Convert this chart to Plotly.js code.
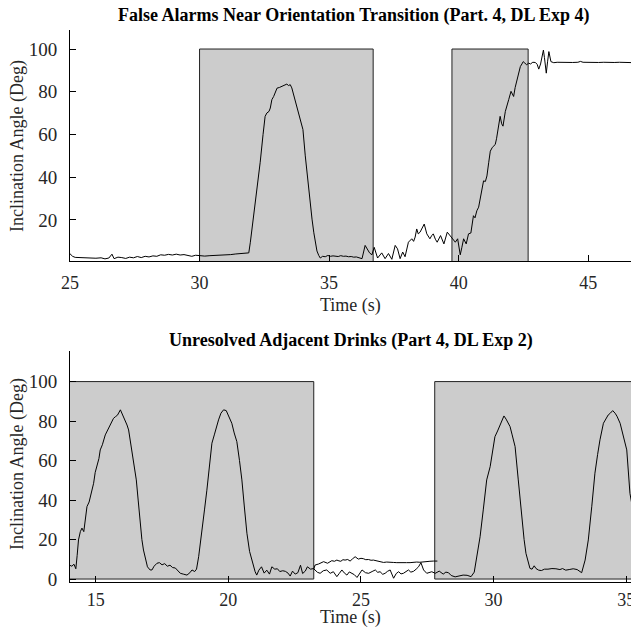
<!DOCTYPE html>
<html>
<head>
<meta charset="utf-8">
<script src="https://cdn.plot.ly/plotly-3.0.1.min.js"></script>
<style>html,body{margin:0;padding:0;background:#fff;}#chart{width:631px;height:633px;}</style>
</head>
<body>
<div id="chart"></div>
<script>
// ---------- Top panel: False Alarms Near Orientation Transition ----------
const topTime = [25.0,25.1,25.2,25.4,25.6,25.8,26.0,26.2,26.35,26.5,26.62,26.7,26.85,27.0,27.15,27.3,27.45,27.6,27.75,27.9,28.05,28.2,28.35,28.5,28.65,28.8,28.95,29.1,29.25,29.4,29.55,29.7,29.85,30.0,30.2,30.4,30.6,30.8,31.0,31.2,31.4,31.6,31.8,31.9,31.96,32.05,32.15,32.25,32.34,32.45,32.53,32.6,32.68,32.73,32.79,32.86,32.93,32.99,33.08,33.18,33.27,33.37,33.43,33.5,33.56,33.63,33.7,33.76,33.83,33.89,33.99,34.08,34.15,34.21,34.28,34.34,34.41,34.47,34.53,34.6,34.66,34.75,34.85,34.95,35.05,35.15,35.25,35.35,35.45,35.55,35.65,35.75,35.85,35.95,36.05,36.15,36.27,36.39,36.48,36.56,36.65,36.74,36.87,37.03,37.16,37.29,37.42,37.55,37.64,37.74,37.84,37.93,38.06,38.19,38.26,38.32,38.38,38.44,38.51,38.6,38.67,38.77,38.89,38.96,39.02,39.1,39.17,39.3,39.43,39.56,39.61,39.67,39.74,39.87,39.96,40.06,40.12,40.19,40.29,40.38,40.47,40.57,40.63,40.7,40.77,40.83,40.9,40.96,41.03,41.09,41.16,41.22,41.3,41.41,41.46,41.52,41.6,41.66,41.71,41.8,41.86,41.93,42.02,42.07,42.12,42.18,42.25,42.32,42.38,42.44,42.49,42.55,42.62,42.7,42.77,42.86,42.96,43.03,43.09,43.16,43.22,43.27,43.31,43.38,43.43,43.48,43.56,43.67,43.8,44.0,44.2,44.4,44.6,44.7,44.8,45.0,45.2,45.4,45.6,45.8,46.0,46.2,46.4,46.6,46.8];
const topAngle = [4.2,3.0,2.5,2.4,2.2,2.0,2.1,2.3,1.8,2.2,4.0,1.9,2.6,2.4,2.0,2.6,2.3,2.9,2.4,3.0,2.7,3.2,3.0,3.7,3.5,3.9,3.6,4.0,3.6,3.8,3.3,3.0,3.5,3.2,3.1,3.3,3.4,3.6,3.5,3.8,4.1,4.3,4.4,4.6,9.6,18,28,38,47,60,68.5,70.1,70.8,72.4,76.3,77.8,80.5,81.7,82.0,82.5,82.8,83.6,82.9,83.3,81.8,78.6,76,73.2,70,67,62.3,50,41,34.4,27,20.4,14,9.6,5.5,3.4,2.2,3.0,2.8,3.4,3.0,3.2,3.1,2.9,3.3,3.0,3.1,2.8,2.9,2.6,2.7,2.4,1.9,8.1,6.5,4.6,3.7,7.2,2.2,4.6,1.9,4.3,1.6,8.1,6.5,1.9,5.0,2.8,9.6,11.2,10,12,15.8,13.5,14.3,16.5,18.1,13.5,11.2,12.7,13.5,11,9.6,12.7,8.8,14.3,13.5,12.7,11.5,9.6,11.2,3.7,7,11.2,8.8,13.5,13.9,22,21,24.3,26,29.8,33,38.3,38,40.6,47,52.2,54,55.3,58,62.3,68.5,65,63.9,70.8,73,76.3,80.2,79,77.8,82,85.6,89,91.8,93,94.1,93.5,92.6,93.4,93.0,93.8,93.7,92.8,90.6,93,97.2,99.5,96,88.7,94,98.8,94.1,93.6,93.8,93.7,93.8,93.7,93.8,94.2,93.8,93.7,93.6,93.7,93.8,93.6,93.7,93.8,93.7,93.7,93.6];
const topBoxStart = [30.0, 39.74];
const topBoxEnd   = [36.70, 42.68];
const topTicksX = [25, 30, 35, 40, 45];
const topTicksY = [20, 40, 60, 80, 100];

// ---------- Bottom panel: Unresolved Adjacent Drinks ----------
const botTime = [14.0,14.1,14.18,14.25,14.3,14.35,14.42,14.48,14.55,14.6,14.67,14.75,14.85,14.92,14.98,15.05,15.12,15.17,15.25,15.36,15.45,15.55,15.6,15.67,15.75,15.82,15.93,16.02,16.11,16.18,16.24,16.3,16.37,16.45,16.53,16.6,16.68,16.74,16.8,16.88,16.95,17.05,17.12,17.2,17.31,17.4,17.5,17.6,17.7,17.8,17.9,18.0,18.1,18.19,18.3,18.44,18.55,18.63,18.73,18.8,18.88,18.95,19.0,19.1,19.19,19.28,19.38,19.47,19.55,19.63,19.72,19.82,19.92,20.0,20.13,20.22,20.32,20.42,20.51,20.6,20.7,20.8,20.89,20.95,21.01,21.07,21.15,21.25,21.35,21.45,21.55,21.64,21.75,21.85,21.94,22.05,22.15,22.25,22.33,22.42,22.52,22.62,22.72,22.8,22.9,22.98,23.1,23.21,23.27,23.36,23.46,23.58,23.71,23.84,23.96,24.09,24.18,24.28,24.37,24.47,24.56,24.66,24.75,24.85,24.95,25.04,25.17,25.29,25.42,25.54,25.63,25.72,25.82,25.91,26.0,26.1,26.23,26.33,26.42,26.51,26.6,26.7,26.79,26.88,26.98,27.08,27.17,27.26,27.36,27.48,27.58,27.67,27.8,27.95,28.1,28.2,28.3,28.4,28.55,28.7,28.85,29.0,29.15,29.27,29.37,29.49,29.61,29.74,29.87,29.96,30.05,30.15,30.24,30.32,30.39,30.47,30.55,30.62,30.7,30.81,30.93,31.06,31.15,31.22,31.3,31.37,31.45,31.53,31.6,31.7,31.8,31.92,32.05,32.2,32.35,32.5,32.6,32.72,32.85,33.0,33.15,33.32,33.45,33.57,33.7,33.82,33.92,34.01,34.14,34.22,34.32,34.4,34.49,34.58,34.65,34.77,34.89,35.02,35.14,35.25];
const botAngle = [7.1,6.5,7.5,5.2,12,19.8,24,25.8,24,30,36.7,39,44,48.5,54,57.8,61,65.4,68,73,75.5,78,79,81.4,82.3,83,85.7,83,80.6,78,75.5,70,63.7,57,50.2,40,26.5,20,14.7,10,6.2,4.6,4.6,6.5,8.0,8.3,7.2,7.8,6.5,7.0,5.8,5.6,4.2,2.9,2.5,2.0,3.2,4.6,3.8,5,11.3,18,24.8,35,45,57,68.8,73,77,80.6,84,85.7,85.3,83,78.9,74,69.6,60,50.2,37,23.2,14,9.6,6.2,3.7,2.0,4.5,6.2,3.0,4.5,2.5,6.2,5.0,5.2,3.8,4.2,3.9,3.0,1.5,4.0,2.5,3.2,7.0,2.8,4.0,6.2,5.0,5.3,4.6,3.4,2.9,4.2,4.6,2.9,3.7,1.2,2.8,4.6,3.1,2.0,3.6,2.9,2.2,0.8,3.0,4.6,3.2,2.9,3.8,4.6,3.4,3.7,2.4,2.9,3.9,4.6,0.4,2.8,3.7,2.6,2.9,3.6,4.6,3.5,3.9,5.0,6.2,8.3,4.6,2.9,3.4,3.7,2.9,4.0,2.5,3.5,3.2,1.8,1.1,1.5,2.0,1.9,1.2,3.5,11.3,21.4,35,50.2,56.9,65,72.1,75,78,81,82.6,81,79,77.2,73,67.1,50.2,29.9,20,13,8,5.4,5.0,6.7,5.3,4.5,4.3,5.0,5.0,5.3,5.2,4.8,5.3,4.5,4.8,5.2,4.8,3.2,9.6,19.8,36.6,53.6,63,70.5,78.9,81,83.1,84,85.3,84,82.5,78.9,72.1,65.4,43.4,35];
// second (overlapping) signal segment visible between the two shaded windows
const botTime2 = [23.22,23.27,23.4,23.5,23.59,23.74,23.82,23.9,24.0,24.09,24.17,24.24,24.32,24.4,24.5,24.59,24.68,24.78,24.9,25.0,25.09,25.18,25.28,25.38,25.47,25.56,25.66,25.76,25.85,25.97,26.1,26.22,26.35,26.47,26.6,26.72,26.85,26.97,27.1,27.22,27.35,27.47,27.6,27.73,27.88];
const botAngle2 = [5.0,7.1,7.6,8.3,8.8,8.0,8.7,9.3,9.0,9.6,9.2,9.0,9.8,9.6,9.9,9.1,10.2,11.3,10.1,10.5,10.3,9.8,9.9,9.5,9.6,9.4,8.8,8.7,8.4,8.6,8.3,8.4,8.3,8.2,8.4,8.3,8.3,8.5,8.6,8.5,8.8,8.9,9.0,9.1,9.1];
const botBoxStart = [14.0, 27.78];
const botBoxEnd   = [23.22, 36.5];
const botTicksX = [15, 20, 25, 30, 35];
const botTicksY = [0, 20, 40, 60, 80, 100];

const boxTop = 100, boxBottom = 0;

const serif = 'Liberation Serif, Times New Roman, serif';
const txtColor = '#262626';

const traces = [
  {x: topTime, y: topAngle, xaxis: 'x', yaxis: 'y', type: 'scatter', mode: 'lines',
   line: {color: '#000', width: 1}, hoverinfo: 'skip'},
  {x: botTime, y: botAngle, xaxis: 'x2', yaxis: 'y2', type: 'scatter', mode: 'lines',
   line: {color: '#000', width: 1}, hoverinfo: 'skip'},
  {x: botTime2, y: botAngle2, xaxis: 'x2', yaxis: 'y2', type: 'scatter', mode: 'lines',
   line: {color: '#000', width: 1}, hoverinfo: 'skip'}
];

const shapes = [];
topBoxStart.forEach((s, i) => shapes.push({type: 'rect', xref: 'x', yref: 'y', x0: s, x1: topBoxEnd[i],
  y0: boxBottom, y1: boxTop, fillcolor: '#cccccc', line: {color: '#222', width: 1}, layer: 'below'}));
botBoxStart.forEach((s, i) => shapes.push({type: 'rect', xref: 'x2', yref: 'y2', x0: s, x1: botBoxEnd[i],
  y0: boxBottom, y1: boxTop, fillcolor: '#cccccc', line: {color: '#222', width: 1}, layer: 'below'}));

const axisCommon = {
  showline: true, linecolor: '#000', linewidth: 1, mirror: false,
  ticks: 'inside', ticklen: 6, tickcolor: '#000', tickwidth: 1,
  showgrid: false, zeroline: false, ticklabeloverflow: 'allow',
  tickfont: {family: serif, size: 19, color: txtColor}
};
const xTickFont = {family: serif, size: 18, color: txtColor};

const layout = {
  width: 631, height: 633,
  paper_bgcolor: '#fff', plot_bgcolor: 'rgba(0,0,0,0)',
  margin: {l: 70, r: 0, t: 30, b: 51},
  showlegend: false,
  xaxis: Object.assign({}, axisCommon, {domain: [0, 1], range: [25, 46.65], tickvals: topTicksX, anchor: 'y', ticklabelstandoff: 5, tickfont: xTickFont}),
  yaxis: Object.assign({}, axisCommon, {domain: [0.5815, 1], range: [0.8, 108.9], tickvals: topTicksY, anchor: 'x', ticklabelstandoff: 8}),
  xaxis2: Object.assign({}, axisCommon, {domain: [0, 1], range: [14.03, 35.18], tickvals: botTicksX, anchor: 'y2', ticklabelstandoff: 1, tickfont: xTickFont}),
  yaxis2: Object.assign({}, axisCommon, {domain: [0, 0.4185], range: [-1.5, 115.5], tickvals: botTicksY, anchor: 'x2', ticklabelstandoff: 8}),
  shapes: shapes,
  annotations: [
    {text: '<b>False Alarms Near Orientation Transition (Part. 4, DL Exp 4)</b>', xref: 'paper', yref: 'paper',
     x: 0.505, y: 1.0254, xanchor: 'center', yanchor: 'middle', showarrow: false,
     font: {family: serif, size: 18, color: '#000'}},
    {text: '<b>Unresolved Adjacent Drinks (Part 4, DL Exp 2)</b>', xref: 'paper', yref: 'paper',
     x: 0.5, y: 0.4384, xanchor: 'center', yanchor: 'middle', showarrow: false,
     font: {family: serif, size: 18, color: '#000'}},
    {text: 'Time (s)', xref: 'paper', yref: 'paper', x: 0.5, y: 0.5018, xanchor: 'center', yanchor: 'middle',
     showarrow: false, font: {family: serif, size: 18, color: txtColor}},
    {text: 'Time (s)', xref: 'paper', yref: 'paper', x: 0.5, y: -0.0643, xanchor: 'center', yanchor: 'middle',
     showarrow: false, font: {family: serif, size: 18, color: txtColor}},
    {text: 'Inclination Angle (Deg)', xref: 'paper', yref: 'paper', x: -0.0927, y: 0.7899, xanchor: 'center', yanchor: 'middle',
     textangle: -90, showarrow: false, font: {family: serif, size: 18, color: txtColor}},
    {text: 'Inclination Angle (Deg)', xref: 'paper', yref: 'paper', x: -0.0927, y: 0.2138, xanchor: 'center', yanchor: 'middle',
     textangle: -90, showarrow: false, font: {family: serif, size: 18, color: txtColor}}
  ]
};

Plotly.newPlot('chart', traces, layout, {staticPlot: true, displayModeBar: false});
</script>
</body>
</html>
